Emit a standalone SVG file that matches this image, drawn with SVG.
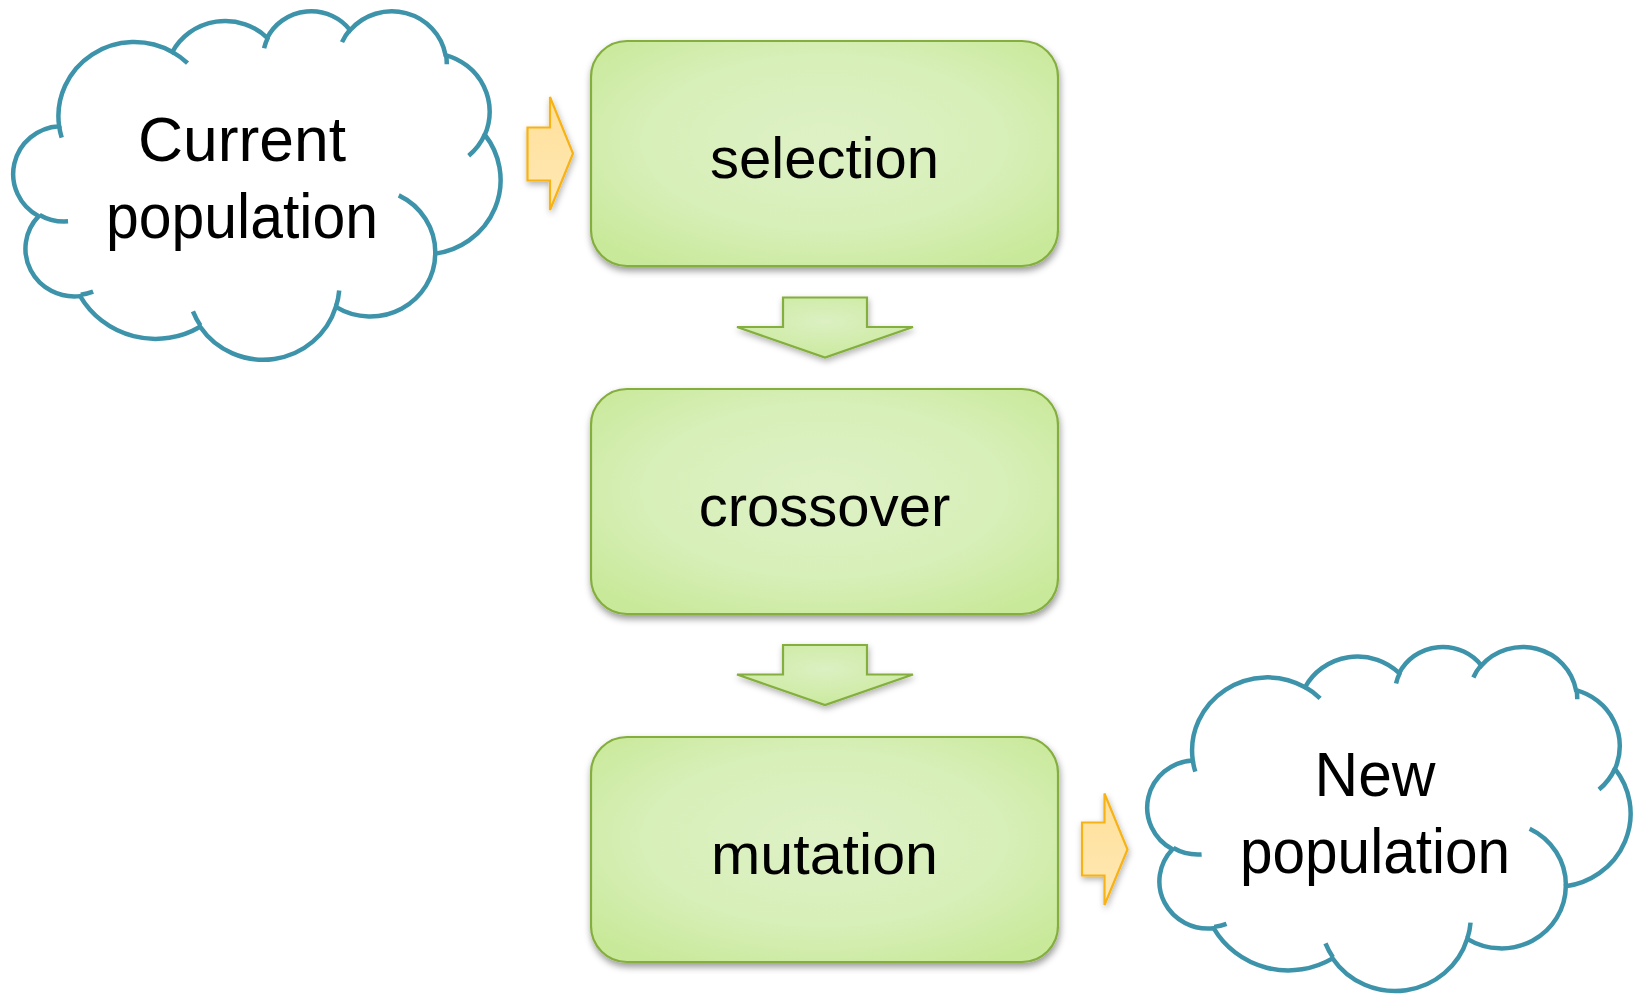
<svg xmlns="http://www.w3.org/2000/svg" xmlns:xlink="http://www.w3.org/1999/xlink" width="1643" height="995" viewBox="0 0 1643 995">
<defs>
<style>
.cbody{fill:#ffffff;stroke:#3D93AA;stroke-width:4.5;}
.cnotch{fill:none;stroke:#3D93AA;stroke-width:4.5;}
.box{fill:url(#gGreen);stroke:#84AE3E;stroke-width:2.2;filter:url(#shadow);}
.down{fill:url(#gGreen2);stroke:#84AE3E;stroke-width:2.2;stroke-linejoin:miter;filter:url(#shadow2);}
.orange{fill:url(#gOrange);stroke:#F7B215;stroke-width:2.2;filter:url(#shadow2);}
.lbl{font-family:'Liberation Sans',Arial,sans-serif;fill:#000000;text-anchor:middle;}
.blbl{font-size:58px;}
.clbl{font-size:63px;}
</style>
<radialGradient id="gGreen" cx="50%" cy="45%" r="65%">
<stop offset="0" stop-color="#DEF1C6"/>
<stop offset="0.6" stop-color="#D7EFB8"/>
<stop offset="1" stop-color="#C9E99A"/>
</radialGradient>
<radialGradient id="gGreen2" cx="50%" cy="40%" r="60%">
<stop offset="0" stop-color="#DCF0C2"/>
<stop offset="1" stop-color="#CBEA9F"/>
</radialGradient>
<linearGradient id="gOrange" x1="0" y1="0" x2="0" y2="1">
<stop offset="0" stop-color="#FFE09A"/>
<stop offset="1" stop-color="#FFE8B4"/>
</linearGradient>
<filter id="shadow" x="-10%" y="-10%" width="125%" height="130%">
<feDropShadow dx="1" dy="4" stdDeviation="3.5" flood-color="#000" flood-opacity="0.4"/>
</filter>
<filter id="shadow2" x="-20%" y="-20%" width="150%" height="160%">
<feDropShadow dx="1" dy="3" stdDeviation="3" flood-color="#000" flood-opacity="0.3"/>
</filter>
<path id="cloudBody" class="cbody" vector-effect="non-scaling-stroke" d="M3900,14370 A6753,9190 0 0 1 13975,5178 A5333,7267 0 0 1 22426,3408 A4365,5945 0 0 1 29803,2457 A4857,6595 0 0 1 38289,5551 A5333,7273 0 0 1 41789,15435 A6775,9220 0 0 1 37375,30179 A5785,7867 0 0 1 28527,36789 A6752,9215 0 0 1 16451,39241 A7720,10543 0 0 1 5772,35448 A4360,5918 0 0 1 2080,25527 A4345,5945 0 0 1 3900,14370 Z"/>
<path id="cloudNotch" class="cnotch" vector-effect="non-scaling-stroke" d="M4693,26177 A4345,5945 0 0 1 2160,25380 M6928,34899 A4360,5918 0 0 1 5820,35280 M16478,39090 A6752,9215 0 0 1 15810,37348 M28827,34751 A6752,9215 0 0 1 28560,36660 M34129,22954 A5785,7867 0 0 1 37381,30090 M41798,15354 A5333,7273 0 0 1 40350,18030 M38324,5426 A4857,6595 0 0 1 38400,6690 M29078,3952 A4857,6595 0 0 1 29819,2341 M22141,4720 A4365,5945 0 0 1 22500,3330 M14000,5192 A6753,9190 0 0 1 15330,6565 M4127,15789 A6753,9190 0 0 1 3900,14371"/>
</defs>

<g id="connectors">
<path id="arrow-in" class="orange" d="M527.5,127.5 L550,127.5 L550,97 L573,153.5 L550,210 L550,180.5 L527.5,180.5 Z"/>
<path id="arrow-sel-cross" class="down" d="M783,297.5 L867,297.5 L867,327 L913,327 L825,357.5 L737,327 L783,327 Z"/>
<path id="arrow-cross-mut" class="down" d="M783,645 L867,645 L867,674.5 L913,674.5 L825,705 L737,674.5 L783,674.5 Z"/>
<path id="arrow-out" class="orange" d="M1082,822.5 L1104.5,822.5 L1104.5,793.5 L1127.5,849.5 L1104.5,905 L1104.5,875.5 L1082,875.5 Z"/>
</g>

<g id="node-current">
<use xlink:href="#cloudBody" transform="translate(15.3,10.3) scale(0.011236,0.008063)"/>
<use xlink:href="#cloudNotch" transform="translate(15.3,10.3) scale(0.011236,0.008063)"/>
<text class="lbl clbl" x="242" y="161" textLength="208" lengthAdjust="spacingAndGlyphs">Current</text>
<text class="lbl clbl" x="242" y="237.5" textLength="272" lengthAdjust="spacingAndGlyphs">population</text>
</g>

<g id="node-selection">
<rect class="box" x="591" y="41" width="467" height="225" rx="36" ry="36"/>
<text class="lbl blbl" x="824.5" y="177.5">selection</text>
</g>

<g id="node-crossover">
<rect class="box" x="591" y="389" width="467" height="225" rx="36" ry="36"/>
<text class="lbl blbl" x="824.5" y="525.5">crossover</text>
</g>

<g id="node-mutation">
<rect class="box" x="591" y="737" width="467" height="225" rx="36" ry="36"/>
<text class="lbl blbl" x="824.5" y="873.5" textLength="227" lengthAdjust="spacingAndGlyphs">mutation</text>
</g>

<g id="node-new">
<use xlink:href="#cloudBody" transform="translate(1149.3,646) scale(0.011144,0.007961)"/>
<use xlink:href="#cloudNotch" transform="translate(1149.3,646) scale(0.011144,0.007961)"/>
<text class="lbl clbl" x="1375" y="795.5" textLength="121" lengthAdjust="spacingAndGlyphs">New</text>
<text class="lbl clbl" x="1375" y="872.5" textLength="270" lengthAdjust="spacingAndGlyphs">population</text>
</g>
</svg>
